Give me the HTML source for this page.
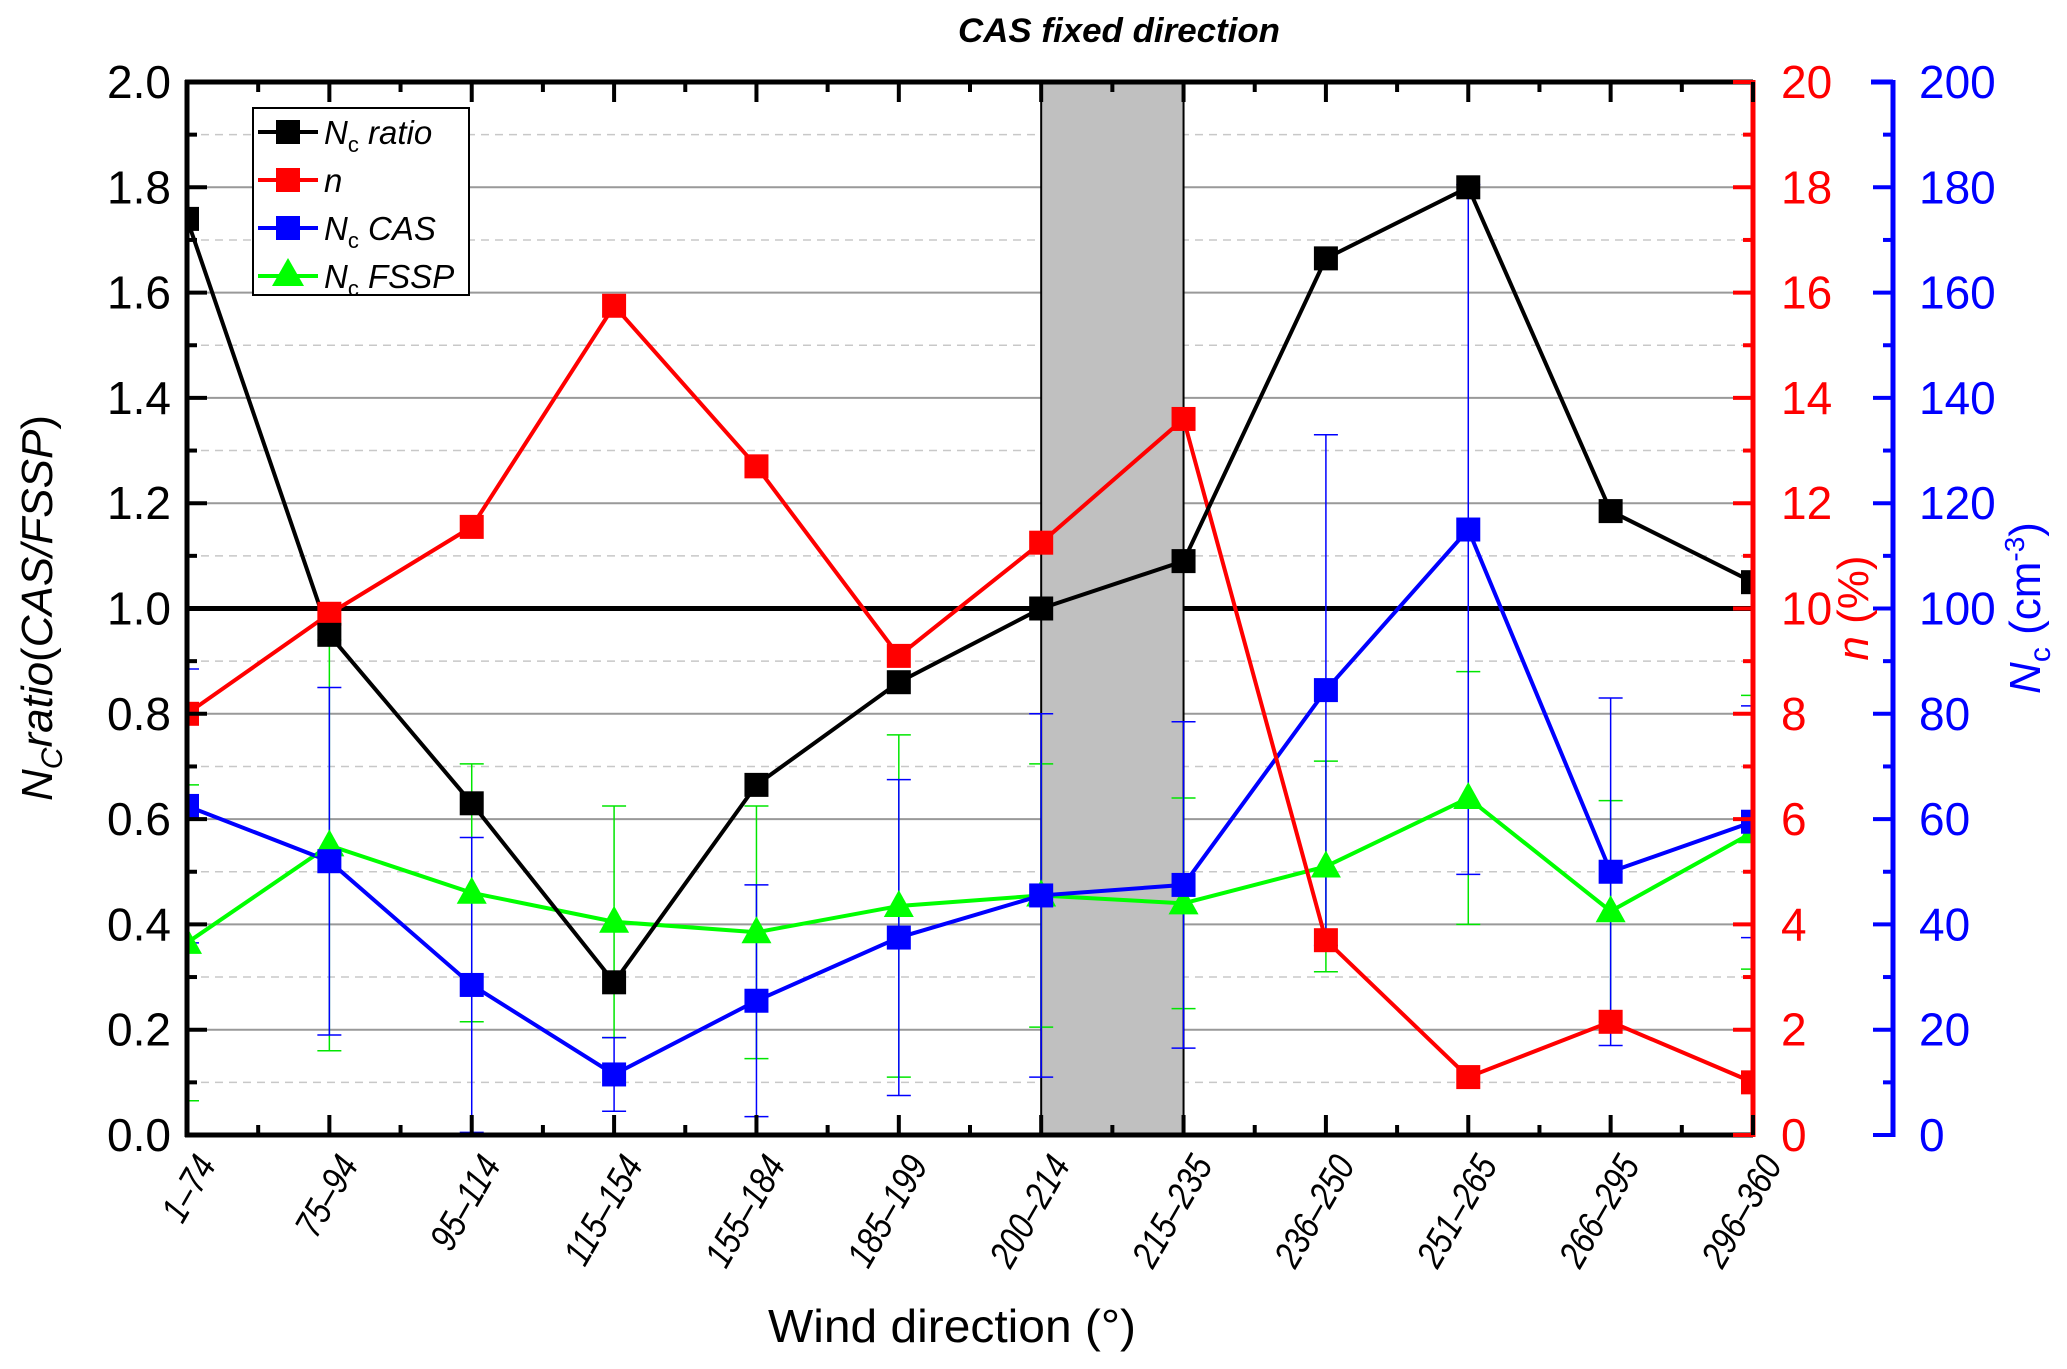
<!DOCTYPE html>
<html><head><meta charset="utf-8"><style>
html,body{margin:0;padding:0;background:#fff;}
svg{display:block;font-family:"Liberation Sans",Arial,sans-serif;}
</style></head><body>
<svg id="chart" width="2067" height="1369" viewBox="0 0 2067 1369" xmlns="http://www.w3.org/2000/svg">
<defs><clipPath id="plotclip"><rect x="187" y="82" width="1566" height="1053"/></clipPath></defs>
<g id="grid"></g>
<g id="band"></g>
<g id="series" clip-path="url(#plotclip)"></g>
<g id="axes"></g>
<text x="1119" y="42" font-size="34" font-weight="bold" font-style="italic" text-anchor="middle" textLength="322" lengthAdjust="spacingAndGlyphs">CAS fixed direction</text>
<text x="952" y="1342" font-size="46" text-anchor="middle" textLength="368" lengthAdjust="spacingAndGlyphs">Wind direction (°)</text>
<text transform="translate(52,608) rotate(-90)" font-size="44" text-anchor="middle" font-style="italic">N<tspan font-size="30" dy="10">C</tspan><tspan dy="-10">ratio</tspan><tspan font-style="normal">(</tspan>CAS/FSSP<tspan font-style="normal">)</tspan></text>
<text transform="translate(1868,608) rotate(-90)" font-size="44" text-anchor="middle" fill="#f00"><tspan font-style="italic">n</tspan> (%)</text>
<text transform="translate(2040,608) rotate(-90)" font-size="44" text-anchor="middle" fill="#00f"><tspan font-style="italic">N</tspan><tspan font-size="30" dy="10">c</tspan><tspan dy="-10"> (cm</tspan><tspan font-size="28" dy="-16">-3</tspan><tspan dy="16">)</tspan></text>
<g id="legend"></g>
</svg>
<script>
const categories=["1–74","75–94","95–114","115–154","155–184","185–199","200–214","215–235","236–250","251–265","266–295","296–360"];
const ratioValues=[1.74,0.95,0.63,0.29,0.665,0.86,1.0,1.09,1.665,1.80,1.185,1.05];
const nValues=[8.0,9.9,11.55,15.75,12.7,9.1,11.25,13.6,3.7,1.1,2.15,1.0];
const casValues=[62.5,52,28.5,11.5,25.5,37.5,45.5,47.5,84.5,115,50,59.5];
const casErr=[26,33,28,7,22,30,34.5,31,48.5,65.5,33,22];
const fsspValues=[36.5,55,46,40.5,38.5,43.5,45.5,44,51,64,42.5,57.5];
const fsspErr=[30,39,24.5,22,24,32.5,25,20,20,24,21,26];
const leftTicks=["0.0","0.2","0.4","0.6","0.8","1.0","1.2","1.4","1.6","1.8","2.0"];
const nTicks=["0","2","4","6","8","10","12","14","16","18","20"];
const ncTicks=["0","20","40","60","80","100","120","140","160","180","200"];
const bandRange=[6,7];

const NS="http://www.w3.org/2000/svg";
const L=187,R=1753,T=82,B=1135,BX=1893;
const xS=i=>L+i*(R-L)/(categories.length-1);
const yR=v=>B-(v/2)*(B-T);
const yN=v=>B-(v/20)*(B-T);
const yC=v=>B-(v/200)*(B-T);
function mk(tag,attrs,parent){const e=document.createElementNS(NS,tag);for(const k in attrs)e.setAttribute(k,attrs[k]);parent.appendChild(e);return e;}
const grid=document.getElementById('grid'),axes=document.getElementById('axes'),series=document.getElementById('series'),band=document.getElementById('band'),legend=document.getElementById('legend');

for(let k=1;k<20;k++){const y=B-k*(B-T)/20;
 const g=mk('line',{x1:L,x2:R,y1:y,y2:y,stroke:k%2?'#c8c8c8':'#999','stroke-width':k%2?1.5:2,'stroke-dasharray':k%2?'8,6':'none'},grid);
 
 }
const br=mk('rect',{x:xS(bandRange[0]),y:T,width:xS(bandRange[1])-xS(bandRange[0]),height:B-T,fill:'#c0c0c0',stroke:'#000','stroke-width':2},band);


const rl=mk('line',{x1:L,x2:R,y1:yR(1),y2:yR(1),stroke:'#000','stroke-width':5},grid);



function errBars(vals,errs,color,name){vals.forEach((v,i)=>{const x=xS(i);const g=mk('g',{stroke:color,'stroke-width':1.5},series);
 
 
 const hi=yC(v+errs[i]),lo=yC(Math.max(0,v-errs[i]));
 mk('line',{x1:x,x2:x,y1:hi,y2:lo},g);mk('line',{x1:x-12,x2:x+12,y1:hi,y2:hi},g);mk('line',{x1:x-12,x2:x+12,y1:lo,y2:lo},g);});}
errBars(fsspValues,fsspErr,'#00e600','fssp-error-bar');
errBars(casValues,casErr,'#0000ff','cas-error-bar');

function line(vals,yf,color,name){const p=mk('polyline',{points:vals.map((v,i)=>xS(i)+','+yf(v)).join(' '),fill:'none',stroke:color,'stroke-width':4},series);
 
 }
function squares(vals,yf,color,name){vals.forEach((v,i)=>{const s=mk('rect',{x:xS(i)-12,y:yf(v)-12,width:24,height:24,fill:color},series);
 
 });}
function tris(vals,yf,color,name){vals.forEach((v,i)=>{const x=xS(i),y=yf(v);const s=mk('polygon',{points:`${x},${y-16} ${x-15},${y+11} ${x+15},${y+11}`,fill:color},series);
 
 });}
line(fsspValues,yC,'#00ff00','fssp-line');
line(casValues,yC,'#0000ff','cas-line');
line(nValues,yN,'#ff0000','n-line');
line(ratioValues,yR,'#000','ratio-line');
tris(fsspValues,yC,'#00ff00','fssp-point');
squares(casValues,yC,'#0000ff','cas-point');
squares(nValues,yN,'#ff0000','n-point');
squares(ratioValues,yR,'#000','ratio-point');

mk('line',{x1:L,x2:L,y1:T-2,y2:B+2,stroke:'#000','stroke-width':5},axes);
mk('line',{x1:L-2,x2:R,y1:B,y2:B,stroke:'#000','stroke-width':5},axes);
mk('line',{x1:L-2,x2:R,y1:T,y2:T,stroke:'#000','stroke-width':5},axes);
mk('line',{x1:R,x2:R,y1:T-2,y2:B+2,stroke:'#f00','stroke-width':5},axes);
mk('line',{x1:BX,x2:BX,y1:T-2,y2:B+2,stroke:'#00f','stroke-width':5},axes);
mk('line',{x1:BX-22,x2:BX,y1:T,y2:T,stroke:'#00f','stroke-width':5},axes);
for(let k=0;k<=20;k++){const y=B-k*(B-T)/20,len=k%2?10:20;
 mk('line',{x1:L,x2:L+len,y1:y,y2:y,stroke:'#000','stroke-width':4},axes);
 mk('line',{x1:R,x2:R-len,y1:y,y2:y,stroke:'#f00','stroke-width':4},axes);
 mk('line',{x1:BX,x2:BX-len,y1:y,y2:y,stroke:'#00f','stroke-width':4},axes);}
leftTicks.forEach((t,k)=>{const y=B-k*(B-T)/10;
 const a=mk('text',{x:L-16,y:y+16,'font-size':46,'text-anchor':'end'},axes);a.textContent=t;
 
 
 const b=mk('text',{x:R+28,y:y+16,'font-size':46,fill:'#f00'},axes);b.textContent=nTicks[k];
 
 
 const c=mk('text',{x:BX+26,y:y+16,'font-size':46,fill:'#00f'},axes);c.textContent=ncTicks[k];
 
 });
for(let k=0;k<=22;k++){const x=L+k*(R-L)/22,len=k%2?10:20;
 mk('line',{x1:x,x2:x,y1:B,y2:B-len,stroke:'#000','stroke-width':4},axes);
 mk('line',{x1:x,x2:x,y1:T,y2:T+len,stroke:'#000','stroke-width':4},axes);}
categories.forEach((c,i)=>{const x=xS(i)+30,y=B+30;
 const t=mk('text',{transform:`translate(${x},${y}) rotate(-60) scale(0.82,1)`,'font-size':38,'font-style':'italic','text-anchor':'end'},axes);t.textContent=c;
 
 });

mk('rect',{x:253,y:108,width:216,height:187,fill:'#fff',stroke:'#000','stroke-width':2},legend);
const lg=[["ratio","#000","sq"],["","#f00","sq"],["CAS","#00f","sq"],["FSSP","#00ff00","tri"]];
lg.forEach((e,i)=>{const y=132+i*48;const g=mk('g',{},legend);
 
 
 mk('line',{x1:258,x2:318,y1:y,y2:y,stroke:e[1],'stroke-width':4},g);
 if(e[2]=='sq')mk('rect',{x:276,y:y-12,width:24,height:24,fill:e[1]},g);
 else mk('polygon',{points:`288,${y-18} 272,${y+10} 304,${y+10}`,fill:e[1]},g);
 const t=mk('text',{x:324,y:y+12,'font-size':33,'font-style':'italic'},g);
 if(i==1)t.textContent='n';else{t.innerHTML='N<tspan font-size="22" font-style="normal" dy="8">c</tspan><tspan dy="-8"> '+e[0]+'</tspan>';}});
</script>
</body></html>
